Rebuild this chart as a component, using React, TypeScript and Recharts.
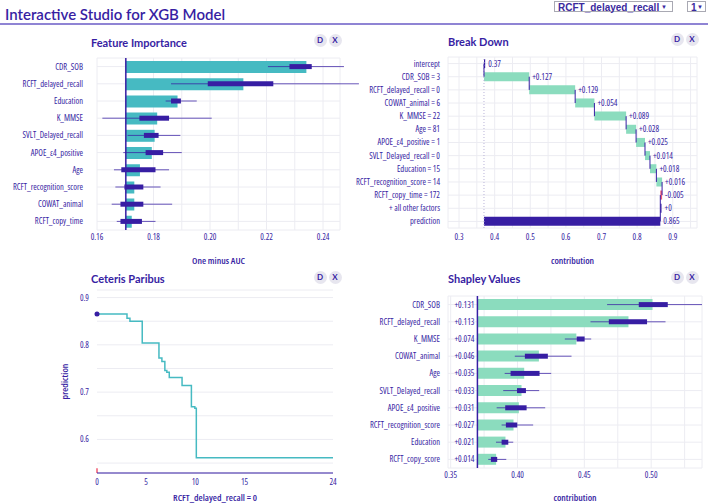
import React from "react";
import {
  ComposedChart,
  Bar,
  Line,
  XAxis,
  YAxis,
  CartesianGrid,
  ReferenceLine,
  ReferenceDot,
  LabelList,
  Cell,
} from "recharts";

const INK = "#371ea3";
const GRID = "#ececf2";
const TEAL = "#46bac2";
const MINT = "#8bdcbe";
const RED = "#f05a71";
const TICK_FONT = '"Open Sans", Roboto, sans-serif';
const HEAD_FONT = 'Lato, "Open Sans", sans-serif';

// ---- Feature Importance ----
const fiFeatures = [
  "CDR_SOB",
  "RCFT_delayed_recall",
  "Education",
  "K_MMSE",
  "SVLT_Delayed_recall",
  "APOE_ε4_positive",
  "Age",
  "RCFT_recognition_score",
  "COWAT_animal",
  "RCFT_copy_time",
];
const fiBase = 0.1702;
const fiLoss = [0.2341, 0.2118, 0.1885, 0.1813, 0.1804, 0.1794, 0.1752, 0.1732, 0.1732, 0.1723];
const fiMin = [0.2205, 0.1862, 0.1843, 0.1619, 0.1708, 0.1693, 0.166, 0.1665, 0.1652, 0.167];
const fiQ1 = [0.2281, 0.1992, 0.1862, 0.175, 0.1766, 0.1772, 0.1686, 0.1697, 0.1683, 0.1683];
const fiQ3 = [0.236, 0.2224, 0.1897, 0.1855, 0.1818, 0.1834, 0.1807, 0.1764, 0.1764, 0.1759];
const fiMax = [0.2474, 0.2527, 0.1953, 0.2006, 0.1895, 0.19, 0.1855, 0.1825, 0.1866, 0.1807];
const fiTicks = [0.16, 0.17, 0.18, 0.19, 0.2, 0.21, 0.22, 0.23, 0.24];

// ---- Break Down ----
const bdVariables = [
  "CDR_SOB = 3",
  "RCFT_delayed_recall = 0",
  "COWAT_animal = 6",
  "K_MMSE = 22",
  "Age = 81",
  "APOE_ε4_positive = 1",
  "SVLT_Delayed_recall = 0",
  "Education = 15",
  "RCFT_recognition_score = 14",
  "RCFT_copy_time = 172",
  "+ all other factors",
];
const bdIntercept = 0.37;
const bdContrib = [0.127, 0.129, 0.054, 0.089, 0.028, 0.025, 0.014, 0.018, 0.016, -0.005, 0];
const bdTicks = [0.3, 0.35, 0.4, 0.45, 0.5, 0.55, 0.6, 0.65, 0.7, 0.75, 0.8, 0.85, 0.9, 0.95];

// ---- Ceteris Paribus ----
const cpX = [0, 3.05, 3.35, 4.6, 6.3, 6.6, 6.9, 7.1, 7.35, 8.65, 9.6, 9.95, 10.1, 24];
const cpY = [0.865, 0.856, 0.85, 0.804, 0.772, 0.765, 0.746, 0.742, 0.731, 0.714, 0.669, 0.666, 0.561, 0.561];
const cpObsX = 0;
const cpObsY = 0.865;
const cpXTicks = [0, 5, 10, 15, 24];
const cpYTicks = [0.55, 0.6, 0.65, 0.7, 0.75, 0.8, 0.85, 0.9];

// ---- Shapley Values ----
const shFeatures = [
  "CDR_SOB",
  "RCFT_delayed_recall",
  "K_MMSE",
  "COWAT_animal",
  "Age",
  "SVLT_Delayed_recall",
  "APOE_ε4_positive",
  "RCFT_recognition_score",
  "Education",
  "RCFT_copy_score",
];
const shIntercept = 0.37;
const shMean = [0.131, 0.113, 0.074, 0.046, 0.035, 0.033, 0.031, 0.027, 0.021, 0.014];
const shMin = [0.467, 0.4546, 0.4354, 0.398, 0.3904, 0.3893, 0.3844, 0.3881, 0.3839, 0.3781];
const shQ1 = [0.4907, 0.4683, 0.4442, 0.4055, 0.3948, 0.3996, 0.3908, 0.3913, 0.3881, 0.3801];
const shQ3 = [0.5124, 0.4969, 0.4502, 0.4227, 0.4165, 0.4063, 0.4068, 0.3998, 0.3931, 0.3848];
const shMax = [0.538, 0.5107, 0.4551, 0.4404, 0.4252, 0.4162, 0.4207, 0.4117, 0.3968, 0.3916];
const shTicks = [0.35, 0.375, 0.4, 0.425, 0.45, 0.475, 0.5, 0.525];

// tables built from the arrays above
const fiRows = fiFeatures.map((name, i) => ({
  name,
  range: [fiBase, fiLoss[i]],
  min: fiMin[i],
  q1: fiQ1[i],
  q3: fiQ3[i],
  max: fiMax[i],
}));

const fmt = (v: number) => String(parseFloat(v.toFixed(3)));
const bdRows: any[] = [];
{
  let cum = bdIntercept;
  bdRows.push({ name: "intercept", range: [cum, cum], label: fmt(cum), start: cum, color: INK });
  bdVariables.forEach((name, i) => {
    const v = bdContrib[i];
    const next = cum + v;
    bdRows.push({
      name,
      range: [Math.min(cum, next), Math.max(cum, next)],
      label: (v >= 0 ? "+" : "") + fmt(v),
      start: cum,
      color: v > 0 ? MINT : v < 0 ? RED : INK,
    });
    cum = next;
  });
  bdRows.push({ name: "prediction", range: [bdIntercept, cum], label: fmt(cum), start: cum, color: INK });
}

const cpRows = cpX.map((x, i) => ({ x, y: cpY[i] }));

const shRows = shFeatures.map((name, i) => ({
  name,
  range: [shIntercept, shIntercept + shMean[i]],
  label: "+" + fmt(shMean[i]),
  min: shMin[i],
  q1: shQ1[i],
  q3: shQ3[i],
  max: shMax[i],
}));

const cond = { fontFamily: TICK_FONT, fontStretch: "condensed" } as const;
const tickStyle = { fontSize: 8.5, fill: INK, style: cond };
const axisTitle = { fill: INK, fontSize: 9.5, fontWeight: 600 };

// plain svg text so long category names are never wrapped
function CatTick(props: any) {
  const { x, y, payload } = props;
  return (
    <text x={x} y={y} dy="0.35em" textAnchor="end" fill={INK} fontSize={8.5} style={cond}>
      {payload.value}
    </text>
  );
}

function Buttons({ x, y }: { x: number; y: number }) {
  const dot = (cx: number, t: string) => (
    <div
      style={{
        position: "absolute",
        left: cx - 6.5,
        top: y - 6.5,
        width: 13,
        height: 13,
        borderRadius: "50%",
        background: "#e7e6ef",
        color: INK,
        fontFamily: HEAD_FONT,
        fontWeight: 700,
        fontSize: 8,
        lineHeight: "13px",
        textAlign: "center",
      }}
    >
      {t}
    </div>
  );
  return (
    <>
      {dot(x, "D")}
      {dot(x + 15, "X")}
    </>
  );
}

function Title({ x, y, text }: { x: number; y: number; text: string }) {
  return (
    <div
      style={{
        position: "absolute",
        left: x,
        top: y - 8,
        lineHeight: "16px",
        fontFamily: HEAD_FONT,
        fontWeight: 700,
        fontSize: 11,
        color: INK,
        whiteSpace: "nowrap",
      }}
    >
      {text}
    </div>
  );
}

function FeatureImportance() {
  return (
    <ComposedChart
      layout="vertical"
      width={370}
      height={270}
      data={fiRows}
      margin={{ top: 58, right: 30, bottom: 0, left: 0 }}
    >
      <CartesianGrid stroke={GRID} />
      <XAxis
        type="number"
        domain={[0.16, 0.246]}
        allowDataOverflow
        ticks={fiTicks}
        interval={0}
        tickFormatter={(v: number) => (Math.round(v * 100) % 2 === 0 ? v.toFixed(2) : "")}
        height={40}
        axisLine={false}
        tickLine={false}
        tickSize={0}
        tickMargin={4}
        tick={tickStyle}
        label={{ value: "One minus AUC", position: "insideBottom", offset: 6, ...axisTitle, style: cond }}
      />
      <YAxis
        type="category"
        dataKey="name"
        width={97}
        interval={0}
        axisLine={false}
        tickLine={false}
        tickSize={0}
        tickMargin={14}
        tick={CatTick}
      />
      <Bar dataKey="range" fill={TEAL} barSize={12} isAnimationActive={false} />
      <ReferenceLine x={fiBase} stroke={INK} strokeWidth={1.5} />
      {fiRows.map((r) => (
        <ReferenceLine
          key={"w" + r.name}
          segment={[{ x: r.min, y: r.name }, { x: r.max, y: r.name }]}
          stroke={INK}
          strokeOpacity={0.75}
          strokeWidth={1}
          ifOverflow="visible"
        />
      ))}
      {fiRows.map((r) => (
        <ReferenceLine
          key={"b" + r.name}
          segment={[{ x: r.q1, y: r.name }, { x: r.q3, y: r.name }]}
          stroke={INK}
          strokeWidth={5}
          ifOverflow="visible"
        />
      ))}
    </ComposedChart>
  );
}

function BreakDown() {
  return (
    <ComposedChart
      layout="vertical"
      width={354}
      height={270}
      data={bdRows}
      margin={{ top: 57, right: 11, bottom: 0, left: 0 }}
    >
      <CartesianGrid stroke={GRID} />
      <XAxis
        type="number"
        domain={[0.269, 0.968]}
        allowDataOverflow
        ticks={bdTicks}
        interval={0}
        tickFormatter={(v: number) => (Math.round(v * 100) % 10 === 0 ? v.toFixed(1) : "")}
        height={42}
        axisLine={false}
        tickLine={false}
        tickSize={0}
        tickMargin={6}
        tick={tickStyle}
        label={{ value: "contribution", position: "insideBottom", offset: 6, ...axisTitle, style: cond }}
      />
      <YAxis
        type="category"
        dataKey="name"
        width={94}
        interval={0}
        axisLine={false}
        tickLine={false}
        tickSize={0}
        tickMargin={8}
        tick={CatTick}
      />
      <ReferenceLine x={bdIntercept} stroke="#b9b3d8" strokeDasharray="1 2" />
      <Bar dataKey="range" barSize={9} minPointSize={1.2} isAnimationActive={false}>
        {bdRows.map((r, i) => (
          <Cell key={i} fill={r.color} />
        ))}
        <LabelList dataKey="label" position="right" offset={3} fill={INK} fontSize={8.5} style={cond} />
      </Bar>
      {bdRows.slice(1).map((r, i) => (
        <ReferenceLine
          key={"c" + i}
          segment={[{ x: r.start, y: bdRows[i].name }, { x: r.start, y: r.name }]}
          stroke={INK}
          strokeWidth={1}
          ifOverflow="visible"
        />
      ))}
    </ComposedChart>
  );
}

function CeterisParibus() {
  return (
    <ComposedChart width={354} height={254} data={cpRows} margin={{ top: 40, right: 21, bottom: 0, left: 0 }}>
      <CartesianGrid stroke={GRID} vertical={false} />
      <XAxis
        type="number"
        dataKey="x"
        domain={[0, 24]}
        ticks={cpXTicks}
        interval={0}
        height={31}
        axisLine={{ stroke: INK }}
        tickLine={false}
        tickSize={0}
        tickMargin={6}
        tick={tickStyle}
        label={{ value: "RCFT_delayed_recall = 0", position: "insideBottom", offset: 3, ...axisTitle, style: cond }}
      />
      <YAxis
        type="number"
        domain={[0.529, 0.916]}
        allowDataOverflow
        ticks={cpYTicks}
        interval={0}
        tickFormatter={(v: number) => (Math.round(v * 100) % 10 === 0 ? v.toFixed(1) : "")}
        width={97}
        axisLine={false}
        tickLine={false}
        tickSize={0}
        tickMargin={8}
        tick={tickStyle}
        label={{
          value: "prediction",
          angle: -90,
          position: "insideLeft",
          offset: 65,
          ...axisTitle,
          style: { ...cond, textAnchor: "middle" },
        }}
      />
      <Line
        type="stepAfter"
        dataKey="y"
        stroke={TEAL}
        strokeWidth={1.5}
        dot={false}
        isAnimationActive={false}
      />
      <ReferenceDot x={cpObsX} y={cpObsY} r={2.5} fill={INK} stroke="none" ifOverflow="visible" />
      <ReferenceLine
        segment={[{ x: cpObsX, y: 0.529 }, { x: cpObsX, y: 0.539 }]}
        stroke={RED}
        strokeWidth={1.5}
        ifOverflow="visible"
      />
    </ComposedChart>
  );
}

function Shapley() {
  return (
    <ComposedChart
      layout="vertical"
      width={354}
      height={254}
      data={shRows}
      margin={{ top: 46, right: 6, bottom: 0, left: 0 }}
    >
      <CartesianGrid stroke={GRID} />
      <XAxis
        type="number"
        domain={[0.348, 0.538]}
        allowDataOverflow
        ticks={shTicks}
        interval={0}
        tickFormatter={(v: number) => (Math.round(v * 1000) % 50 === 0 ? v.toFixed(2) : "")}
        height={36}
        axisLine={false}
        tickLine={false}
        tickSize={0}
        tickMargin={4}
        tick={tickStyle}
        label={{ value: "contribution", position: "insideBottom", offset: 3, ...axisTitle, style: cond }}
      />
      <YAxis
        type="category"
        dataKey="name"
        width={94}
        interval={0}
        axisLine={false}
        tickLine={false}
        tickSize={0}
        tickMargin={8}
        tick={CatTick}
      />
      <Bar dataKey="range" fill={MINT} barSize={11} isAnimationActive={false}>
        <LabelList dataKey="label" position="left" offset={3} fill={INK} fontSize={8.5} style={cond} />
      </Bar>
      <ReferenceLine x={shIntercept} stroke={INK} strokeWidth={1.5} />
      {shRows.map((r) => (
        <ReferenceLine
          key={"w" + r.name}
          segment={[{ x: r.min, y: r.name }, { x: r.max, y: r.name }]}
          stroke={INK}
          strokeOpacity={0.75}
          strokeWidth={1}
          ifOverflow="visible"
        />
      ))}
      {shRows.map((r) => (
        <ReferenceLine
          key={"b" + r.name}
          segment={[{ x: r.q1, y: r.name }, { x: r.q3, y: r.name }]}
          stroke={INK}
          strokeWidth={5}
          ifOverflow="visible"
        />
      ))}
    </ComposedChart>
  );
}

export default function App() {
  return (
    <div
      style={{
        position: "absolute",
        left: 0,
        top: 0,
        width: 708,
        height: 504,
        background: "#fff",
        overflow: "hidden",
      }}
    >
      {/* header */}
      <div
        style={{
          position: "absolute",
          left: 5,
          top: 4,
          lineHeight: "20px",
          fontFamily: HEAD_FONT,
          fontWeight: 600,
          fontSize: 15,
          color: INK,
          whiteSpace: "nowrap",
        }}
      >
        Interactive Studio for XGB Model
      </div>
      <div style={{ position: "absolute", left: 0, top: 23, width: 708, height: 2, background: "#8f84d4" }} />
      <div
        style={{
          position: "absolute",
          left: 554,
          top: 1,
          width: 119,
          height: 11,
          border: "1px solid #a9a9b3",
          fontFamily: '"Liberation Sans", Arial, sans-serif',
          fontWeight: 700,
          fontSize: 10,
          lineHeight: "11px",
          color: "#3b2a9e",
          paddingLeft: 3,
          boxSizing: "border-box",
        }}
      >
        RCFT_delayed_recall
        <span style={{ position: "absolute", right: 5, top: 0, fontSize: 6 }}>▼</span>
      </div>
      <div
        style={{
          position: "absolute",
          left: 687,
          top: 1,
          width: 19,
          height: 11,
          border: "1px solid #a9a9b3",
          fontFamily: '"Liberation Sans", Arial, sans-serif',
          fontWeight: 700,
          fontSize: 10,
          lineHeight: "11px",
          color: "#3b2a9e",
          paddingLeft: 3,
          boxSizing: "border-box",
        }}
      >
        1
        <span style={{ position: "absolute", right: 2, top: 0, fontSize: 6 }}>▼</span>
      </div>

      {/* panels */}
      <div style={{ position: "absolute", left: 354, top: 0 }}>
        <BreakDown />
      </div>
      <div style={{ position: "absolute", left: 0, top: 0 }}>
        <FeatureImportance />
      </div>
      <div style={{ position: "absolute", left: 0, top: 250 }}>
        <CeterisParibus />
      </div>
      <div style={{ position: "absolute", left: 354, top: 250 }}>
        <Shapley />
      </div>

      <Title x={91} y={43} text="Feature Importance" />
      <Title x={448} y={42} text="Break Down" />
      <Title x={91} y={279} text="Ceteris Paribus" />
      <Title x={448} y={279} text="Shapley Values" />
      <Buttons x={320} y={40} />
      <Buttons x={677} y={39.5} />
      <Buttons x={320} y={277} />
      <Buttons x={677} y={277} />
    </div>
  );
}
